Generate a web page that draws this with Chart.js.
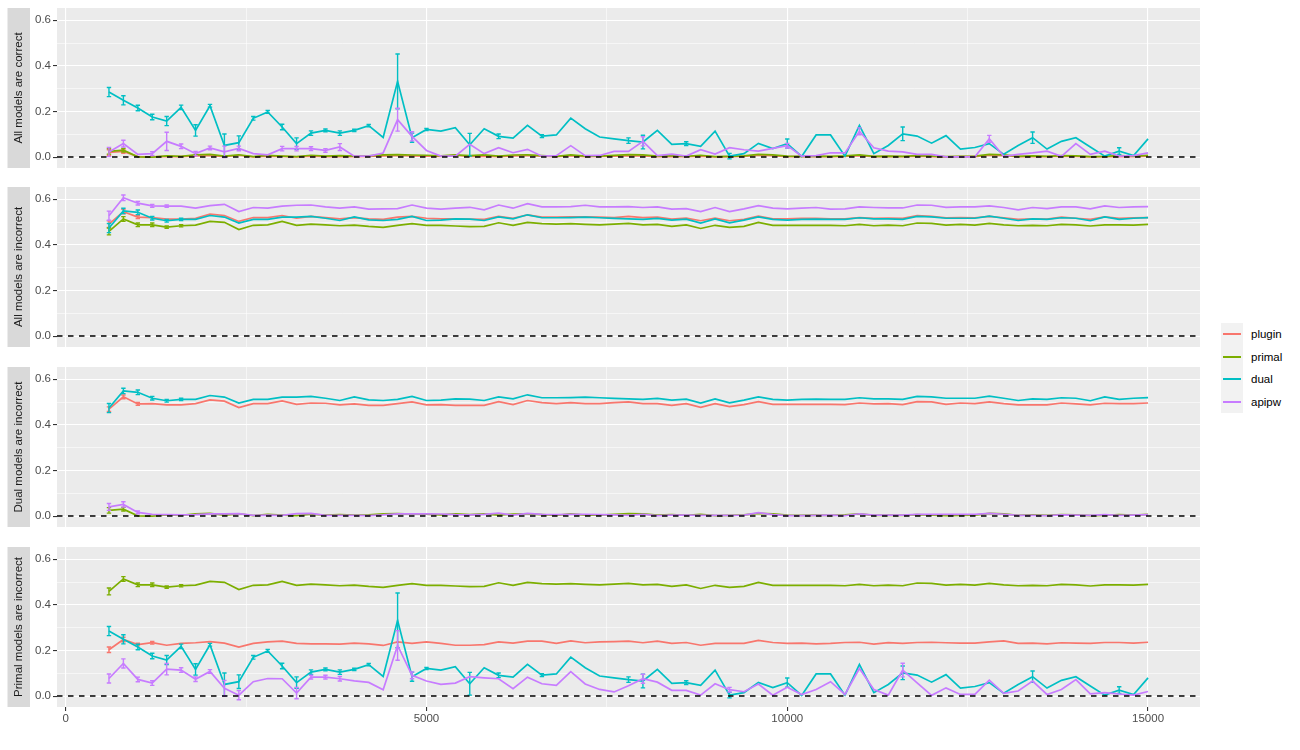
<!DOCTYPE html>
<html>
<head>
<meta charset="utf-8">
<script src="https://cdn.jsdelivr.net/npm/chart.js@4.4.0/dist/chart.umd.min.js"></script>
<style>
body { margin: 0; background: #fff; width: 1300px; height: 750px; overflow: hidden; font-family: "Liberation Sans", Arial, sans-serif; }
canvas.panel { position: absolute; left: 0; }
#legend { position: absolute; left: 1221px; top: 323px; font-size: 11.5px; color: #000; }
#legend .row { height: 22.5px; display: flex; align-items: center; }
#legend .key { width: 22px; height: 22.5px; background: #F2F2F2; position: relative; margin-right: 8px; }
#legend .key span { position: absolute; left: 2px; right: 2px; top: 10.3px; height: 1.8px; }
</style>
</head>
<body>
<div id="legend"></div>
<script>
// training size
const xValues = [
    600, 800, 1000, 1200, 1400, 1600, 1800, 2000, 2200, 2400,
    2600, 2800, 3000, 3200, 3400, 3600, 3800, 4000, 4200, 4400,
    4600, 4800, 5000, 5200, 5400, 5600, 5800, 6000, 6200, 6400,
    6600, 6800, 7000, 7200, 7400, 7600, 7800, 8000, 8200, 8400,
    8600, 8800, 9000, 9200, 9400, 9600, 9800, 10000, 10200, 10400,
    10600, 10800, 11000, 11200, 11400, 11600, 11800, 12000, 12200, 12400,
    12600, 12800, 13000, 13200, 13400, 13600, 13800, 14000, 14200, 14400,
    14600, 14800, 15000
];

const seriesNames = ['plugin', 'primal', 'dual', 'apipw'];
const seriesColors = ['#F8766D', '#7CAE00', '#00BFC4', '#C77CFF'];
const facetTitles = ['All models are correct', 'All models are incorrect', 'Dual models are incorrect', 'Primal models are incorrect'];

const xTicks = [0, 2500, 5000, 7500, 10000, 12500, 15000];
const yTicks = [0, 0.1, 0.2, 0.3, 0.4, 0.5, 0.6];

// dual / primal model estimates (shared between facets where the model is the same)
const dualCorrect = [
    0.285, 0.249, 0.215, 0.176, 0.158, 0.218, 0.117, 0.225, 0.051, 0.063,
    0.170, 0.198, 0.132, 0.059, 0.105, 0.117, 0.105, 0.117, 0.138, 0.086,
    0.332, 0.085, 0.121, 0.114, 0.129, 0.054, 0.124, 0.091, 0.083, 0.139,
    0.092, 0.097, 0.171, 0.124, 0.088, 0.080, 0.072, 0.066, 0.117, 0.056,
    0.059, 0.047, 0.114, 0.004, 0.015, 0.060, 0.037, 0.059, 0.003, 0.097,
    0.097, 0.004, 0.139, 0.015, 0.051, 0.102, 0.092, 0.061, 0.094, 0.035,
    0.042, 0.059, 0.012, 0.051, 0.085, 0.035, 0.069, 0.085, 0.044, 0.004,
    0.026, 0.007, 0.080
];
const dualWrong = [
    0.474, 0.549, 0.543, 0.517, 0.506, 0.512, 0.512, 0.529, 0.522, 0.496,
    0.512, 0.512, 0.522, 0.522, 0.525, 0.517, 0.507, 0.523, 0.510, 0.507,
    0.512, 0.525, 0.507, 0.509, 0.514, 0.513, 0.507, 0.523, 0.514, 0.532,
    0.519, 0.519, 0.520, 0.522, 0.519, 0.516, 0.514, 0.512, 0.516, 0.509,
    0.513, 0.496, 0.514, 0.497, 0.509, 0.523, 0.512, 0.509, 0.512, 0.513,
    0.512, 0.512, 0.519, 0.514, 0.514, 0.512, 0.525, 0.523, 0.517, 0.517,
    0.517, 0.526, 0.517, 0.507, 0.514, 0.512, 0.519, 0.517, 0.506, 0.523,
    0.512, 0.517, 0.520
];
const primalCorrect = [
    0.025, 0.030, 0.001, 0.000, 0.005, 0.003, 0.010, 0.012, 0.004, 0.010,
    0.002, 0.007, 0.004, 0.002, 0.008, 0.004, 0.006, 0.004, 0.005, 0.010,
    0.011, 0.009, 0.008, 0.005, 0.010, 0.006, 0.010, 0.004, 0.009, 0.010,
    0.006, 0.003, 0.010, 0.004, 0.004, 0.007, 0.011, 0.010, 0.004, 0.006,
    0.003, 0.008, 0.002, 0.003, 0.005, 0.012, 0.010, 0.004, 0.003, 0.004,
    0.003, 0.005, 0.010, 0.003, 0.004, 0.003, 0.006, 0.004, 0.002, 0.003,
    0.004, 0.012, 0.010, 0.003, 0.005, 0.003, 0.006, 0.005, 0.002, 0.003,
    0.006, 0.004, 0.007
];
const primalWrong = [
    0.459, 0.514, 0.488, 0.488, 0.478, 0.484, 0.487, 0.503, 0.499, 0.467,
    0.486, 0.488, 0.503, 0.486, 0.491, 0.488, 0.484, 0.487, 0.481, 0.477,
    0.486, 0.493, 0.486, 0.486, 0.483, 0.480, 0.481, 0.497, 0.486, 0.499,
    0.493, 0.491, 0.493, 0.490, 0.488, 0.491, 0.494, 0.488, 0.490, 0.481,
    0.488, 0.472, 0.486, 0.477, 0.481, 0.499, 0.486, 0.486, 0.486, 0.486,
    0.486, 0.484, 0.490, 0.484, 0.487, 0.484, 0.496, 0.494, 0.487, 0.490,
    0.487, 0.494, 0.488, 0.484, 0.486, 0.484, 0.490, 0.488, 0.483, 0.488,
    0.488, 0.487, 0.490
];

// plugin and apipw, one per facet
const pluginAllCorrect = [
    0.020, 0.025, 0.002, 0.001, 0.003, 0.002, 0.005, 0.007, 0.002, 0.008,
    0.001, 0.004, 0.003, 0.001, 0.004, 0.002, 0.003, 0.002, 0.003, 0.005,
    0.007, 0.005, 0.004, 0.003, 0.008, 0.003, 0.004, 0.002, 0.005, 0.007,
    0.004, 0.002, 0.006, 0.002, 0.003, 0.004, 0.006, 0.005, 0.002, 0.003,
    0.002, 0.004, 0.001, 0.002, 0.003, 0.008, 0.006, 0.002, 0.003, 0.002,
    0.002, 0.003, 0.006, 0.002, 0.003, 0.002, 0.004, 0.002, 0.001, 0.002,
    0.002, 0.008, 0.006, 0.002, 0.003, 0.002, 0.004, 0.003, 0.001, 0.002,
    0.003, 0.002, 0.004
];
const apipwAllCorrect = [
    0.022, 0.059, 0.012, 0.015, 0.069, 0.047, 0.015, 0.040, 0.023, 0.038,
    0.015, 0.010, 0.037, 0.037, 0.037, 0.029, 0.044, 0.004, 0.004, 0.018,
    0.164, 0.091, 0.029, 0.004, 0.004, 0.056, 0.015, 0.041, 0.019, 0.034,
    0.004, 0.006, 0.050, 0.006, 0.007, 0.025, 0.025, 0.069, 0.006, 0.013,
    0.004, 0.032, 0.013, 0.041, 0.032, 0.026, 0.038, 0.050, 0.004, 0.006,
    0.019, 0.018, 0.113, 0.041, 0.026, 0.023, 0.012, 0.012, 0.001, 0.001,
    0.001, 0.080, 0.003, 0.012, 0.018, 0.026, 0.003, 0.059, 0.012, 0.026,
    0.004, 0.006, 0.018
];
const pluginAllWrong = [
    0.491, 0.546, 0.522, 0.520, 0.513, 0.513, 0.517, 0.535, 0.529, 0.503,
    0.520, 0.520, 0.529, 0.517, 0.525, 0.520, 0.514, 0.520, 0.514, 0.512,
    0.522, 0.525, 0.517, 0.514, 0.514, 0.513, 0.512, 0.525, 0.517, 0.532,
    0.522, 0.522, 0.523, 0.523, 0.522, 0.520, 0.525, 0.520, 0.522, 0.513,
    0.517, 0.506, 0.517, 0.506, 0.512, 0.526, 0.514, 0.514, 0.516, 0.516,
    0.514, 0.514, 0.520, 0.516, 0.517, 0.516, 0.528, 0.525, 0.519, 0.520,
    0.519, 0.525, 0.519, 0.512, 0.514, 0.513, 0.522, 0.517, 0.512, 0.523,
    0.517, 0.519, 0.520
];
const apipwAllWrong = [
    0.528, 0.607, 0.583, 0.571, 0.570, 0.570, 0.561, 0.572, 0.578, 0.546,
    0.564, 0.561, 0.570, 0.574, 0.575, 0.567, 0.561, 0.567, 0.557, 0.558,
    0.559, 0.575, 0.561, 0.557, 0.561, 0.565, 0.554, 0.575, 0.561, 0.581,
    0.567, 0.567, 0.568, 0.574, 0.567, 0.567, 0.568, 0.564, 0.567, 0.557,
    0.559, 0.546, 0.564, 0.546, 0.558, 0.572, 0.561, 0.558, 0.561, 0.564,
    0.557, 0.558, 0.567, 0.564, 0.562, 0.562, 0.575, 0.574, 0.565, 0.567,
    0.567, 0.571, 0.564, 0.554, 0.564, 0.559, 0.567, 0.567, 0.558, 0.571,
    0.564, 0.567, 0.568
];
const pluginDualWrong = [
    0.469, 0.523, 0.492, 0.493, 0.488, 0.488, 0.493, 0.510, 0.504, 0.476,
    0.493, 0.493, 0.505, 0.490, 0.496, 0.495, 0.488, 0.492, 0.486, 0.486,
    0.493, 0.501, 0.488, 0.489, 0.486, 0.486, 0.486, 0.502, 0.489, 0.507,
    0.498, 0.493, 0.498, 0.493, 0.493, 0.498, 0.501, 0.493, 0.493, 0.486,
    0.493, 0.477, 0.493, 0.480, 0.489, 0.502, 0.490, 0.490, 0.490, 0.490,
    0.490, 0.489, 0.496, 0.492, 0.493, 0.489, 0.502, 0.501, 0.490, 0.496,
    0.493, 0.501, 0.493, 0.488, 0.488, 0.488, 0.496, 0.492, 0.488, 0.495,
    0.493, 0.493, 0.496
];
const apipwDualWrong = [
    0.040, 0.051, 0.016, 0.007, 0.006, 0.005, 0.006, 0.010, 0.010, 0.011,
    0.003, 0.004, 0.003, 0.011, 0.012, 0.003, 0.003, 0.003, 0.002, 0.005,
    0.010, 0.010, 0.010, 0.009, 0.006, 0.005, 0.007, 0.013, 0.004, 0.012,
    0.007, 0.006, 0.007, 0.008, 0.006, 0.005, 0.003, 0.008, 0.002, 0.004,
    0.004, 0.003, 0.003, 0.003, 0.004, 0.015, 0.006, 0.002, 0.002, 0.003,
    0.004, 0.002, 0.010, 0.004, 0.004, 0.004, 0.007, 0.008, 0.007, 0.007,
    0.007, 0.012, 0.008, 0.003, 0.003, 0.002, 0.005, 0.004, 0.003, 0.006,
    0.003, 0.004, 0.006
];
const pluginPrimalWrong = [
    0.203, 0.248, 0.226, 0.234, 0.223, 0.231, 0.234, 0.239, 0.232, 0.215,
    0.231, 0.238, 0.241, 0.231, 0.229, 0.229, 0.228, 0.232, 0.229, 0.222,
    0.238, 0.231, 0.238, 0.231, 0.223, 0.223, 0.226, 0.238, 0.232, 0.241,
    0.241, 0.231, 0.242, 0.234, 0.238, 0.239, 0.241, 0.234, 0.241, 0.231,
    0.235, 0.223, 0.231, 0.231, 0.231, 0.244, 0.235, 0.231, 0.232, 0.229,
    0.231, 0.235, 0.236, 0.228, 0.234, 0.231, 0.235, 0.236, 0.234, 0.232,
    0.232, 0.238, 0.242, 0.231, 0.232, 0.229, 0.234, 0.232, 0.231, 0.235,
    0.235, 0.232, 0.236
];
const apipwPrimalWrong = [
    0.077, 0.143, 0.073, 0.057, 0.118, 0.114, 0.074, 0.108, 0.034, 0.004,
    0.063, 0.077, 0.076, 0.013, 0.083, 0.083, 0.076, 0.067, 0.060, 0.028,
    0.222, 0.091, 0.066, 0.051, 0.057, 0.085, 0.080, 0.076, 0.032, 0.083,
    0.054, 0.047, 0.107, 0.053, 0.029, 0.018, 0.045, 0.076, 0.061, 0.025,
    0.025, 0.004, 0.054, 0.028, 0.019, 0.053, 0.004, 0.039, 0.007, 0.029,
    0.063, 0.007, 0.121, 0.029, 0.004, 0.114, 0.058, 0.003, 0.036, 0.007,
    0.007, 0.070, 0.012, 0.022, 0.066, 0.007, 0.029, 0.072, 0.010, 0.015,
    0.009, 0.004, 0.020
];

// error bar half widths, [point index, half width]
const errDualCorrect = [[0, .02], [1, .02], [2, .012], [3, .012], [4, .02], [5, .01], [6, .025], [7, .006], [8, .05], [9, .03],
    [10, .008], [11, .006], [12, .012], [13, .025], [14, .01], [15, .006], [16, .01], [17, .005], [18, .005], [20, .12],
    [21, .02], [22, .005], [25, .05], [27, .01], [30, .006], [36, .012], [37, .03], [40, .008], [43, .012], [47, .02],
    [55, .03], [64, .025], [70, .015]];
const errDualWrong = [[0, .02], [1, .012], [2, .01], [3, .008], [4, .006], [5, .005]];
const errPrimalCorrect = [[0, .012], [1, .008]];
const errPrimalWrong = [[0, .015], [1, .01], [2, .008], [3, .008], [4, .005], [5, .005]];
const errPluginAllCorrect = [[0, .012], [1, .008]];
const errApipwAllCorrect = [[0, .02], [1, .015], [3, .008], [4, .04], [5, .01], [6, .01], [7, .008], [8, .025], [9, .01],
    [12, .01], [13, .01], [14, .008], [15, .008], [16, .015], [20, .05], [21, .02], [37, .02], [47, .01], [52, .015], [61, .015]];
const errPluginAllWrong = [[0, .015], [1, .01], [2, .006]];
const errApipwAllWrong = [[0, .02], [1, .012], [2, .008], [3, .006], [4, .005]];
const errPluginDualWrong = [[0, .01], [1, .008], [2, .006]];
const errApipwDualWrong = [[0, .015], [1, .012], [2, .006]];
const errPluginPrimalWrong = [[0, .012], [1, .01], [2, .006], [3, .006]];
const errApipwPrimalWrong = [[0, .02], [1, .02], [2, .01], [3, .01], [4, .025], [5, .01], [6, .01], [7, .008], [8, .035],
    [9, .02], [13, .025], [14, .008], [15, .008], [16, .01], [20, .065], [21, .015], [37, .02], [43, .01], [55, .03]];

const facetSeries = [
    [pluginAllCorrect, primalCorrect, dualCorrect, apipwAllCorrect],
    [pluginAllWrong, primalWrong, dualWrong, apipwAllWrong],
    [pluginDualWrong, primalCorrect, dualWrong, apipwDualWrong],
    [pluginPrimalWrong, primalWrong, dualCorrect, apipwPrimalWrong]
];
const facetErrors = [
    [errPluginAllCorrect, errPrimalCorrect, errDualCorrect, errApipwAllCorrect],
    [errPluginAllWrong, errPrimalWrong, errDualWrong, errApipwAllWrong],
    [errPluginDualWrong, errPrimalCorrect, errDualWrong, errApipwDualWrong],
    [errPluginPrimalWrong, errPrimalWrong, errDualCorrect, errApipwPrimalWrong]
];

const FONT = '"Liberation Sans", Arial, sans-serif';
const panelTops = [8, 187, 367, 547];
const panelHeight = 160;

// grey panel + strip on the left
const facetDecor = {
    id: 'facetDecor',
    beforeDraw(chart, args, opts) {
        const { ctx, chartArea: a } = chart;
        ctx.save();
        ctx.fillStyle = '#EBEBEB';
        ctx.fillRect(a.left, a.top, a.right - a.left, a.bottom - a.top);
        ctx.fillStyle = '#D9D9D9';
        ctx.fillRect(7.5, a.top, 22.5, a.bottom - a.top);
        ctx.translate(19, (a.top + a.bottom) / 2);
        ctx.rotate(-Math.PI / 2);
        ctx.fillStyle = '#1A1A1A';
        ctx.font = '11.5px ' + FONT;
        ctx.textAlign = 'center';
        ctx.textBaseline = 'middle';
        ctx.fillText(opts.title, 0, 0);
        ctx.restore();
    },
    afterDatasetsDraw(chart) {
        // dashed reference line at zero
        const { ctx, chartArea: a, scales: { y } } = chart;
        const py = y.getPixelForValue(0);
        ctx.save();
        ctx.strokeStyle = '#000';
        ctx.lineWidth = 1.4;
        ctx.setLineDash([5.5, 5.5]);
        ctx.beginPath();
        ctx.moveTo(a.left, py);
        ctx.lineTo(a.right, py);
        ctx.stroke();
        ctx.restore();
    }
};

const errorBars = {
    id: 'errorBars',
    afterDatasetDraw(chart, args) {
        const ds = chart.data.datasets[args.index];
        const { ctx, chartArea: a, scales: { x, y } } = chart;
        ctx.save();
        ctx.beginPath();
        ctx.rect(a.left, a.top, a.right - a.left, a.bottom - a.top);
        ctx.clip();
        ctx.strokeStyle = ds.borderColor;
        ctx.lineWidth = 1.4;
        ds.err.forEach(([i, e]) => {
            const px = x.getPixelForValue(ds.data[i].x);
            const y1 = y.getPixelForValue(ds.data[i].y + e);
            const y2 = y.getPixelForValue(ds.data[i].y - e);
            ctx.beginPath();
            ctx.moveTo(px, y1); ctx.lineTo(px, y2);
            ctx.moveTo(px - 2.2, y1); ctx.lineTo(px + 2.2, y1);
            ctx.moveTo(px - 2.2, y2); ctx.lineTo(px + 2.2, y2);
            ctx.stroke();
        });
        ctx.restore();
    }
};

facetTitles.forEach((title, f) => {
    const last = f === facetTitles.length - 1;
    const canvas = document.createElement('canvas');
    canvas.className = 'panel';
    canvas.width = 1205;
    canvas.height = panelHeight + (last ? 26 : 0);
    canvas.style.top = panelTops[f] + 'px';
    document.body.appendChild(canvas);

    const datasets = seriesNames.map((name, k) => ({
        label: name,
        data: xValues.map((xv, i) => ({ x: xv, y: facetSeries[f][k][i] })),
        err: facetErrors[f][k],
        borderColor: seriesColors[k],
        borderWidth: 1.7,
        pointRadius: 0,
        tension: 0,
        order: seriesNames.length - k
    }));

    new Chart(canvas.getContext('2d'), {
        type: 'line',
        data: { datasets: datasets },
        options: {
            responsive: false,
            animation: false,
            layout: { padding: { left: 30, right: 5, top: 0, bottom: 0 } },
            plugins: {
                legend: { display: false },
                tooltip: { enabled: false },
                facetDecor: { title: title }
            },
            scales: {
                x: {
                    type: 'linear',
                    min: -120,
                    max: 15720,
                    afterBuildTicks: s => { s.ticks = xTicks.map(v => ({ value: v })); },
                    afterFit: s => {
                        s.height = last ? 26 : 0;
                        s.paddingLeft = 0; s.paddingRight = 0;
                    },
                    border: { display: false },
                    grid: {
                        color: '#FFFFFF',
                        lineWidth: c => (c.tick && c.tick.value % 5000 === 0) ? 1.1 : 0.55,
                        drawTicks: last,
                        tickLength: 4,
                        tickColor: c => (c.tick && c.tick.value % 5000 === 0) ? '#333333' : 'rgba(0,0,0,0)'
                    },
                    ticks: {
                        display: last,
                        padding: 1,
                        maxRotation: 0,
                        color: '#4D4D4D',
                        font: { family: FONT, size: 11.5 },
                        callback: v => v % 5000 === 0 ? String(v) : ''
                    }
                },
                y: {
                    min: -0.048,
                    max: 0.654,
                    afterBuildTicks: s => { s.ticks = yTicks.map(v => ({ value: v })); },
                    afterFit: s => {
                        s.width = 27;
                        s.paddingTop = 0; s.paddingBottom = 0;
                    },
                    border: { display: false },
                    grid: {
                        color: '#FFFFFF',
                        lineWidth: c => (c.tick && Math.round(c.tick.value * 10) % 2 === 0) ? 1.1 : 0.55,
                        tickLength: 4,
                        tickColor: c => (c.tick && Math.round(c.tick.value * 10) % 2 === 0) ? '#333333' : 'rgba(0,0,0,0)'
                    },
                    ticks: {
                        padding: 2,
                        color: '#4D4D4D',
                        font: { family: FONT, size: 11.5 },
                        callback: v => Math.round(v * 10) % 2 === 0 ? v.toFixed(1) : ''
                    }
                }
            }
        },
        plugins: [facetDecor, errorBars]
    });
});

// legend
const legend = document.getElementById('legend');
seriesNames.forEach((name, k) => {
    const row = document.createElement('div');
    row.className = 'row';
    row.innerHTML = '<div class="key"><span style="background:' + seriesColors[k] + '"></span></div>' + name;
    legend.appendChild(row);
});
</script>
</body>
</html>
